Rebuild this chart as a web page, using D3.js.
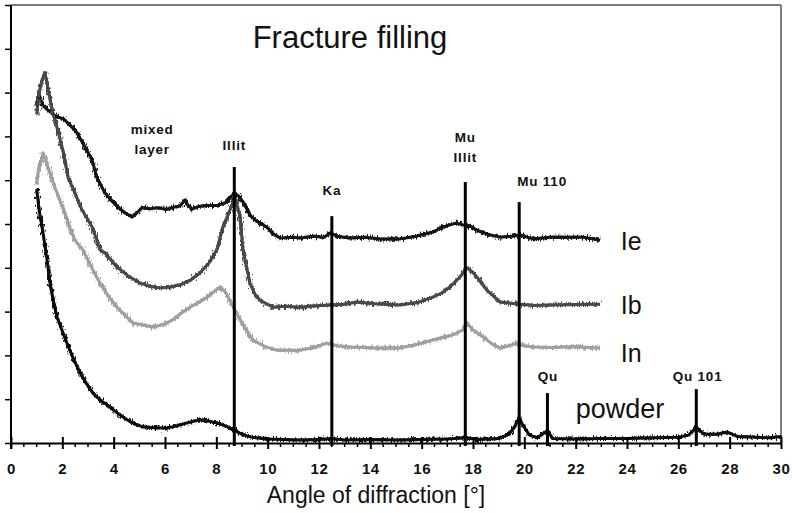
<!DOCTYPE html>
<html>
<head>
<meta charset="utf-8">
<script src="https://cdn.jsdelivr.net/npm/d3@7"></script>
<style>
  html, body { margin: 0; padding: 0; background: #fff; }
  svg { display: block; font-family: "Liberation Sans", Arial, sans-serif; }
</style>
</head>
<body>
<svg id="chart" width="792" height="513"></svg>
<script>
// Diffraction patterns of the fracture filling: angle 2θ [°] vs. relative intensity
const seriesNames = ["Ie", "Ib", "In", "powder"];

const patternIe = [[1.0,7.7],[1.1,7.95],[1.25,7.7],[1.44,7.6],[1.65,7.5],[1.83,7.44],[2.05,7.4],[2.22,7.3],[2.49,7.15],[2.7,6.95],[2.88,6.76],[3.16,6.46],[3.35,6.05],[3.66,5.71],[3.9,5.55],[4.17,5.39],[4.45,5.25],[4.71,5.16],[4.9,5.25],[5.1,5.37],[5.4,5.35],[5.73,5.37],[6.05,5.33],[6.39,5.39],[6.6,5.42],[6.78,5.55],[6.9,5.42],[7.05,5.34],[7.3,5.4],[7.67,5.42],[8.0,5.42],[8.34,5.48],[8.7,5.7],[8.9,5.62],[9.1,5.45],[9.31,5.2],[9.6,5.05],[9.97,4.93],[10.2,4.78],[10.48,4.68],[11.0,4.7],[11.26,4.68],[11.8,4.72],[12.2,4.7],[12.45,4.8],[12.7,4.72],[13.2,4.68],[13.8,4.7],[14.4,4.66],[15.15,4.66],[15.8,4.72],[16.44,4.82],[16.8,4.92],[17.1,4.98],[17.35,5.02],[17.6,4.98],[17.9,4.95],[18.15,4.86],[18.6,4.76],[19.05,4.7],[19.5,4.72],[19.83,4.75],[20.34,4.66],[21.0,4.7],[21.66,4.7],[22.3,4.7],[22.95,4.63]];

const patternIb = [[1.0,7.5],[1.1,8.0],[1.21,8.29],[1.32,8.45],[1.44,8.1],[1.6,7.6],[1.79,7.21],[1.99,6.76],[2.1,6.46],[2.22,6.07],[2.49,5.71],[2.77,5.32],[3.16,4.93],[3.47,4.41],[3.66,4.34],[4.13,4.02],[4.6,3.8],[5.03,3.65],[5.4,3.58],[5.8,3.54],[6.2,3.56],[6.58,3.61],[7.0,3.72],[7.36,3.88],[7.7,4.1],[8.02,4.41],[8.26,4.93],[8.53,5.32],[8.73,5.62],[8.92,5.16],[9.04,4.41],[9.31,3.65],[9.5,3.4],[9.7,3.26],[10.21,3.1],[10.7,3.12],[11.26,3.1],[11.8,3.13],[12.43,3.15],[13.0,3.17],[13.48,3.22],[14.2,3.18],[15.15,3.15],[15.8,3.2],[16.44,3.33],[16.8,3.43],[17.1,3.56],[17.49,3.79],[17.76,4.0],[17.95,3.92],[18.15,3.79],[18.54,3.49],[19.05,3.22],[19.83,3.17],[20.4,3.14],[21.0,3.15],[22.0,3.16],[22.95,3.17]];

const patternIn = [[1.0,5.9],[1.05,6.16],[1.25,6.62],[1.44,6.3],[1.71,5.84],[1.9,5.55],[2.1,5.25],[2.3,4.9],[2.49,4.63],[2.8,4.41],[3.1,4.05],[3.47,3.65],[3.8,3.35],[4.13,3.1],[4.75,2.74],[5.1,2.7],[5.53,2.65],[5.9,2.7],[6.31,2.81],[6.6,2.95],[6.97,3.1],[7.3,3.2],[7.64,3.33],[7.9,3.45],[8.14,3.56],[8.35,3.45],[8.53,3.26],[8.92,2.81],[9.15,2.6],[9.43,2.35],[9.9,2.2],[10.36,2.12],[11.26,2.12],[11.8,2.18],[12.31,2.28],[12.7,2.22],[13.2,2.19],[14.2,2.17],[15.15,2.17],[15.8,2.25],[16.44,2.35],[16.9,2.42],[17.22,2.47],[17.6,2.58],[17.76,2.74],[18.0,2.58],[18.39,2.42],[18.7,2.28],[19.05,2.17],[19.4,2.22],[19.71,2.28],[20.0,2.22],[20.34,2.19],[21.0,2.18],[22.0,2.2],[22.95,2.17]];

const patternPowder = [[1.0,5.8],[1.1,5.3],[1.25,4.79],[1.4,4.2],[1.52,3.65],[1.65,3.25],[1.79,2.88],[2.0,2.55],[2.18,2.28],[2.45,1.9],[2.69,1.6],[2.95,1.35],[3.19,1.14],[3.5,0.97],[3.86,0.82],[4.2,0.66],[4.52,0.53],[4.8,0.44],[5.14,0.37],[5.6,0.35],[6.08,0.34],[6.5,0.4],[6.86,0.46],[7.36,0.53],[7.7,0.5],[8.02,0.46],[8.4,0.38],[8.65,0.3],[9.0,0.2],[9.31,0.14],[9.97,0.09],[10.6,0.08],[11.26,0.07],[12.0,0.08],[12.5,0.1],[13.0,0.07],[14.0,0.08],[15.0,0.07],[16.0,0.08],[17.0,0.09],[17.7,0.12],[18.2,0.08],[19.0,0.1],[19.4,0.2],[19.65,0.4],[19.8,0.57],[19.95,0.4],[20.2,0.18],[20.5,0.12],[20.9,0.28],[21.1,0.1],[22.0,0.09],[23.0,0.1],[24.0,0.1],[25.0,0.12],[26.0,0.13],[26.4,0.18],[26.7,0.36],[27.0,0.2],[27.5,0.2],[27.9,0.25],[28.3,0.15],[29.0,0.13],[29.6,0.12],[30.0,0.15]];

const seriesColors = ["#151515", "#484848", "#a0a0a0", "#101010"];

// reflection markers: position (°) and height (intensity units)
const reflexAngles = [8.7, 12.5, 17.7, 19.8, 20.9, 26.7];
const reflexHeights = [6.3, 5.18, 5.96, 5.5, 1.14, 1.23];

// annotation text, anchored in data units
const annotations = [
  {text: "mixed", x: 5.5, y: 7.05},
  {text: "layer", x: 5.5, y: 6.6},
  {text: "Illit", x: 8.7, y: 6.69},
  {text: "Ka", x: 12.5, y: 5.66},
  {text: "Mu", x: 17.7, y: 6.87},
  {text: "Illit", x: 17.7, y: 6.42},
  {text: "Mu 110", x: 20.69, y: 5.87},
  {text: "Qu", x: 20.92, y: 1.42},
  {text: "Qu 101", x: 26.75, y: 1.42}
];
const seriesLabelX = [23.76, 23.76, 23.76, 22.0];
const seriesLabelY = [4.41, 2.95, 1.85, 0.57];

const xTicks = d3.range(0, 31, 2);
const yTicks = d3.range(0, 11, 1);

const svg = d3.select("#chart");
const x = d3.scaleLinear().domain([0, 30]).range([11, 781]);
const y = d3.scaleLinear().domain([0, 10]).range([443, 5]);

// rough texture for the measured traces (counting noise look)
const defs = svg.append("defs");
const f = defs.append("filter").attr("id", "grain")
  .attr("x", "-5%").attr("y", "-5%").attr("width", "110%").attr("height", "110%");
f.append("feTurbulence").attr("type", "fractalNoise").attr("baseFrequency", "0.8 0.25")
  .attr("numOctaves", 2).attr("seed", 7).attr("result", "t");
f.append("feDisplacementMap").attr("in", "SourceGraphic").attr("in2", "t")
  .attr("scale", 8).attr("xChannelSelector", "R").attr("yChannelSelector", "G")
  .attr("result", "d");
f.append("feMerge").call(m => {
  m.append("feMergeNode").attr("in", "SourceGraphic");
  m.append("feMergeNode").attr("in", "d");
});

// frame
svg.append("line").attr("x1", x(0)).attr("x2", x(30)).attr("y1", y(10)).attr("y2", y(10))
  .attr("stroke", "#7a7a7a").attr("stroke-width", 2);
svg.append("line").attr("x1", x(30)).attr("x2", x(30)).attr("y1", y(10)).attr("y2", y(0))
  .attr("stroke", "#555").attr("stroke-width", 1.5);

// traces
const line = d3.line().x(d => x(d[0])).y(d => y(d[1])).curve(d3.curveLinear);
const patterns = [patternIe, patternIb, patternIn, patternPowder];
const traces = svg.append("g").attr("filter", "url(#grain)");
patterns.forEach((p, i) => {
  traces.append("path").datum(p).attr("d", line)
    .attr("fill", "none").attr("stroke", seriesColors[i])
    .attr("stroke-width", 3).attr("stroke-linejoin", "round");
});

// reflection markers
svg.append("g").selectAll("line").data(reflexAngles).join("line")
  .attr("x1", d => x(d)).attr("x2", d => x(d))
  .attr("y1", y(0) + 3).attr("y2", (d, i) => y(reflexHeights[i]))
  .attr("stroke", "#000").attr("stroke-width", 3);

// axes
const xAxis = svg.append("g").attr("transform", `translate(0,${y(0)})`)
  .call(d3.axisBottom(x).tickValues(xTicks).tickSize(6).tickSizeOuter(0).tickPadding(14)
    .tickFormat(d3.format("d")));
xAxis.select(".domain").attr("stroke", "#000").attr("stroke-width", 2);
xAxis.selectAll(".tick line").attr("stroke", "#000").attr("stroke-width", 2).attr("y1", -6);
xAxis.selectAll("text").attr("font-size", 15).attr("font-weight", "bold")
  .attr("fill", "#111").attr("letter-spacing", 0.6);
// minor ticks
xAxis.selectAll(".minor").data(d3.range(0.5, 30, 0.5).filter(v => v % 2 !== 0)).join("line")
  .attr("class", "minor").attr("x1", d => x(d)).attr("x2", d => x(d))
  .attr("y1", 0).attr("y2", 4).attr("stroke", "#000").attr("stroke-width", 1.5);

const yAxis = svg.append("g").attr("transform", `translate(${x(0)},0)`)
  .call(d3.axisLeft(y).tickValues(yTicks).tickSize(6).tickSizeOuter(0).tickFormat(""));
yAxis.select(".domain").attr("stroke", "#000").attr("stroke-width", 2)
  .attr("d", `M0,${y(10)}V${y(0) + 6}`);
yAxis.selectAll(".tick line").attr("stroke", "#000").attr("stroke-width", 1.5);

// annotations
svg.append("g").selectAll("text").data(annotations).join("text")
  .attr("x", d => x(d.x)).attr("y", d => y(d.y))
  .attr("text-anchor", "middle").attr("font-size", 13.5).attr("font-weight", "bold")
  .attr("letter-spacing", 0.8).attr("fill", "#111").text(d => d.text);

// series labels
svg.append("g").selectAll("text").data(seriesNames).join("text")
  .attr("x", (d, i) => x(seriesLabelX[i])).attr("y", (d, i) => y(seriesLabelY[i]))
  .attr("font-size", (d, i) => i === 3 ? 27 : 25).attr("fill", "#111").text(d => d);

// title and axis title
svg.append("text").attr("x", 350).attr("y", 48).attr("text-anchor", "middle")
  .attr("font-size", 31).attr("fill", "#111").text("Fracture filling");
svg.append("text").attr("x", 376).attr("y", 503).attr("text-anchor", "middle")
  .attr("font-size", 23).attr("fill", "#111").text("Angle of diffraction [°]");
</script>
</body>
</html>
